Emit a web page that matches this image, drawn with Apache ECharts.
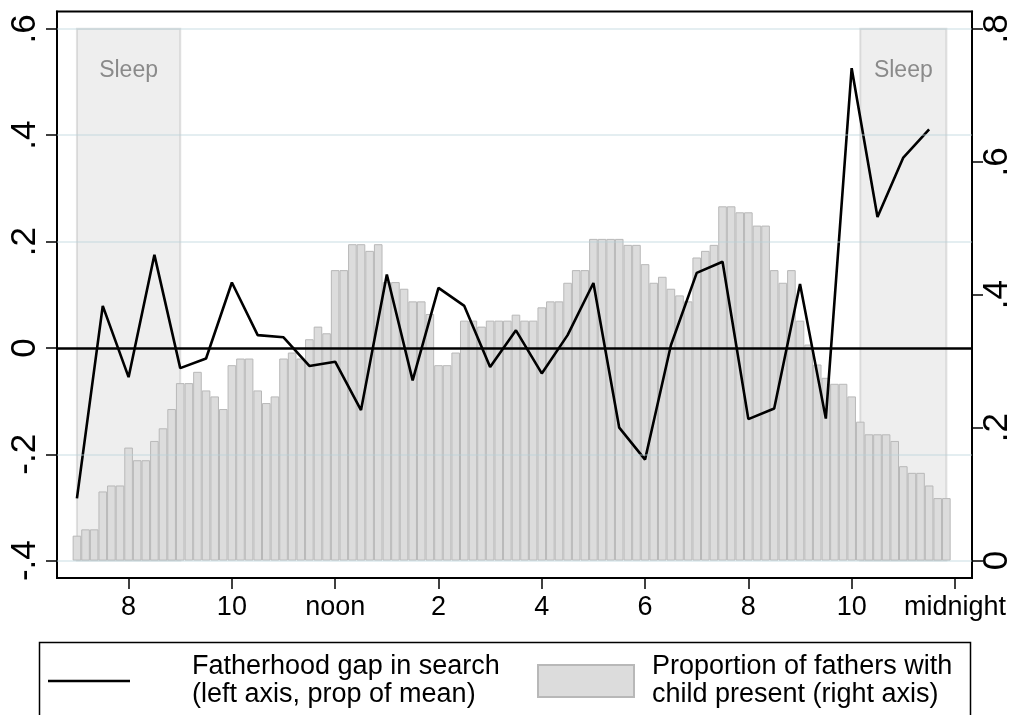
<!DOCTYPE html>
<html>
<head>
<meta charset="utf-8">
<script src="https://cdn.jsdelivr.net/npm/echarts@6/dist/echarts.min.js"></script>
<style>
  html, body { margin: 0; padding: 0; background: #fff; }
  #chart { width: 1013px; height: 715px; }
</style>
</head>
<body>
<div id="chart"></div>
<script>
// ---- data ----
const barTimes = [
  "7:00","7:10","7:20","7:30","7:40","7:50",
  "8:00","8:10","8:20","8:30","8:40","8:50",
  "9:00","9:10","9:20","9:30","9:40","9:50",
  "10:00","10:10","10:20","10:30","10:40","10:50",
  "11:00","11:10","11:20","11:30","11:40","11:50",
  "12:00","12:10","12:20","12:30","12:40","12:50",
  "13:00","13:10","13:20","13:30","13:40","13:50",
  "14:00","14:10","14:20","14:30","14:40","14:50",
  "15:00","15:10","15:20","15:30","15:40","15:50",
  "16:00","16:10","16:20","16:30","16:40","16:50",
  "17:00","17:10","17:20","17:30","17:40","17:50",
  "18:00","18:10","18:20","18:30","18:40","18:50",
  "19:00","19:10","19:20","19:30","19:40","19:50",
  "20:00","20:10","20:20","20:30","20:40","20:50",
  "21:00","21:10","21:20","21:30","21:40","21:50",
  "22:00","22:10","22:20","22:30","22:40","22:50",
  "23:00","23:10","23:20","23:30","23:40","23:50"
];
const fathersWithChild = [
  0.0375,0.047,0.047,0.104,0.113,0.113,
  0.170,0.151,0.151,0.180,0.199,0.228,
  0.267,0.267,0.284,0.256,0.247,0.228,
  0.294,0.304,0.304,0.256,0.237,0.247,
  0.304,0.313,0.304,0.333,0.352,0.342,
  0.437,0.437,0.476,0.476,0.466,0.476,
  0.419,0.419,0.409,0.390,0.390,0.371,
  0.294,0.294,0.313,0.361,0.361,0.352,
  0.361,0.361,0.361,0.370,0.361,0.361,
  0.381,0.390,0.390,0.418,0.437,0.437,
  0.484,0.484,0.484,0.484,0.475,0.475,
  0.446,0.418,0.427,0.409,0.399,0.390,
  0.456,0.466,0.475,0.533,0.533,0.524,
  0.524,0.504,0.504,0.437,0.418,0.437,
  0.361,0.325,0.295,0.275,0.266,0.266,
  0.247,0.209,0.190,0.190,0.190,0.180,
  0.142,0.132,0.132,0.113,0.094,0.094
];
const lineTimes = [
  "7:00","7:30","8:00","8:30","9:00","9:30","10:00","10:30","11:00","11:30",
  "12:00","12:30","13:00","13:30","14:00","14:30","15:00","15:30","16:00","16:30",
  "17:00","17:30","18:00","18:30","19:00","19:30","20:00","20:30","21:00","21:30",
  "22:00","22:30","23:00","23:30"
];
const fatherhoodGap = [
  -0.283,0.079,-0.055,0.175,-0.038,-0.020,0.123,0.024,0.020,-0.034,
  -0.026,-0.117,0.138,-0.061,0.113,0.079,-0.036,0.033,-0.048,0.024,
  0.122,-0.150,-0.210,0.005,0.141,0.162,-0.134,-0.114,0.120,-0.133,
  0.526,0.246,0.358,0.411
];
const sleepStarts = ["7:00","22:10"];
const sleepEnds   = ["9:00","23:50"];
const sleepLabel = "Sleep";

const xTickHours  = [8,10,12,14,16,18,20,22,24];
const xTickLabels = ["8","10","noon","2","4","6","8","10","midnight"];
const leftTicks  = [-0.4,-0.2,0,0.2,0.4,0.6];
const leftTickLabels = ["-.4","-.2","0",".2",".4",".6"];
const rightTicks = [0,0.2,0.4,0.6,0.8];
const rightTickLabels = ["0",".2",".4",".6",".8"];
const gridValues = [-0.4,-0.2,0.2,0.4,0.6];

const lineName = "Fatherhood gap in search\n(left axis, prop of mean)";
const barName  = "Proportion of fathers with\nchild present (right axis)";

// ---- helpers ----
function toHour(t) { const p = t.split(":"); return +p[0] + (+p[1]) / 60; }
function pick(vals, labels) {
  return function (v) {
    for (let i = 0; i < vals.length; i++) if (Math.abs(vals[i] - v) < 1e-6) return labels[i];
    return "";
  };
}
const FONT = '"Liberation Sans", Arial, Helvetica, sans-serif';

const chart = echarts.init(document.getElementById('chart'), null, { renderer: 'canvas' });

const option = {
  animation: false,
  backgroundColor: '#ffffff',
  grid: {
    left: 57, right: 41, top: 11.5, bottom: 137,
    outerBoundsMode: 'none', containLabel: false,
    show: true, borderColor: '#000', borderWidth: 2, backgroundColor: 'transparent'
  },
  xAxis: {
    type: 'value',
    min: 6.614, max: 24.33,
    axisLine: { show: true, onZero: false, lineStyle: { color: '#000', width: 2 } },
    axisTick: { show: true, inside: false, customValues: xTickHours, length: 11, lineStyle: { color: '#000', width: 1.5 } },
    axisLabel: {
      customValues: xTickHours, formatter: pick(xTickHours, xTickLabels),
      color: '#000', fontSize: 27, fontFamily: FONT, margin: 16
    },
    splitLine: { show: false }
  },
  yAxis: [
    {
      type: 'value', position: 'left',
      min: -0.4327, max: 0.6326,
      axisLine: { show: true, onZero: false, lineStyle: { color: '#000', width: 2 } },
      axisTick: { show: true, customValues: leftTicks, length: 11, lineStyle: { color: '#000', width: 1.5 } },
      axisLabel: {
        customValues: leftTicks, formatter: pick(leftTicks, leftTickLabels),
        rotate: 90, color: '#000', fontSize: 35, fontFamily: FONT, margin: 14
      },
      splitLine: { show: false }
    },
    {
      type: 'value', position: 'right',
      min: -0.0262, max: 0.8261,
      axisLine: { show: true, onZero: false, lineStyle: { color: '#000', width: 2 } },
      axisTick: { show: true, customValues: rightTicks, length: 11, lineStyle: { color: '#000', width: 1.5 } },
      axisLabel: {
        customValues: rightTicks, formatter: pick(rightTicks, rightTickLabels),
        rotate: 90, color: '#000', fontSize: 35, fontFamily: FONT, margin: 8
      },
      splitLine: { show: false }
    }
  ],
  legend: [
    {
      data: [{ name: lineName, icon: 'path://M0,0H82V2.4H0Z' }],
      left: 48, top: 653, padding: 0,
      itemWidth: 82, itemHeight: 30,
      textStyle: { fontSize: 27, fontFamily: FONT, color: '#000', lineHeight: 28, padding: [0, 0, 0, 57] }
    },
    {
      data: [barName], left: 537, top: 653, padding: 0,
      itemWidth: 96, itemHeight: 32, icon: 'rect',
      textStyle: { fontSize: 27, fontFamily: FONT, color: '#000', lineHeight: 28, padding: [0, 0, 0, 13] }
    }
  ],
  graphic: [
    { type: 'rect', left: 37, top: 640, shape: { width: 931, height: 110 },
      style: { fill: 'none', stroke: '#000', lineWidth: 1.5 }, silent: true }
  ],
  series: [
    {
      name: 'gridlines', type: 'line', data: [], yAxisIndex: 0, z: 4, silent: true,
      markLine: {
        silent: true, symbol: ['none', 'none'], label: { show: false },
        lineStyle: { color: 'rgba(185,212,220,0.5)', width: 1.5, type: 'solid' },
        data: gridValues.map(v => ({ yAxis: v }))
      }
    },
    {
      name: barName, type: 'bar', yAxisIndex: 1, z: 2,
      barWidth: '100%',
      itemStyle: { color: '#dcdcdc', borderColor: '#b8b8b8', borderWidth: 1 },
      data: barTimes.map((t, i) => [toHour(t), fathersWithChild[i]])
    },
    {
      name: lineName, type: 'line', yAxisIndex: 0, z: 3,
      symbol: 'none', showSymbol: false,
      lineStyle: { color: '#000', width: 2.6 },
      itemStyle: { color: '#000' },
      data: lineTimes.map((t, i) => [toHour(t), fatherhoodGap[i]]),
      markLine: {
        silent: true, symbol: ['none', 'none'], label: { show: false },
        lineStyle: { color: '#000', width: 2.5, type: 'solid' },
        data: [{ yAxis: 0 }]
      }
    },
    {
      name: 'sleep', type: 'line', data: [], yAxisIndex: 0, z: 5, silent: true,
      markArea: {
        silent: true,
        itemStyle: { color: 'rgba(190,190,190,0.26)', borderColor: 'rgba(160,160,160,0.3)', borderWidth: 2 },
        label: { show: true, position: 'insideTop', distance: 31, color: '#8a8a8a', fontSize: 23, fontFamily: FONT },
        data: sleepStarts.map((s, i) => [
          { name: sleepLabel, xAxis: toHour(s), yAxis: leftTicks[0] },
          { xAxis: toHour(sleepEnds[i]), yAxis: leftTicks[leftTicks.length - 1] }
        ])
      }
    }
  ]
};
chart.setOption(option);
</script>
</body>
</html>
